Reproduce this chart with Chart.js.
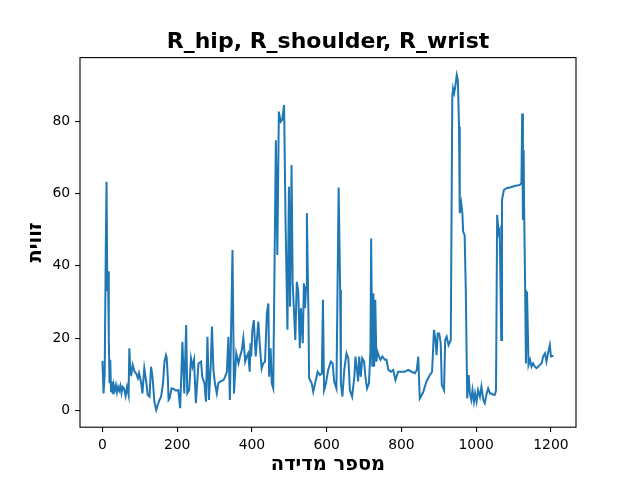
<!DOCTYPE html>
<html>
<head>
<meta charset="utf-8">
<script src="https://cdn.jsdelivr.net/npm/chart.js@4/dist/chart.umd.min.js"></script>
<style>
  html, body { margin: 0; padding: 0; background: #fff; }
  #wrap { width: 640px; height: 480px; }
</style>
</head>
<body>
<div id="wrap"><canvas id="angleChart" width="640" height="480"></canvas></div>
<script>
const measurement = [
  0, 3, 6, 9, 11, 13, 15, 17, 19, 21, 23, 26, 28, 30, 33, 36, 39, 42, 45, 48,
  51, 54, 58, 62, 66, 70, 72, 75, 77, 81, 86, 90, 95, 98, 103, 107, 112, 117, 121, 126,
  130, 134, 139, 144, 148, 153, 157, 162, 166, 170, 172, 175, 177, 180, 185, 190, 196, 203, 208, 214,
  219, 224, 227, 232, 237, 241, 245, 250, 257, 264, 267, 273, 277, 281, 285, 290, 293, 297, 301, 306,
  310, 315, 324, 328, 333, 337, 341, 348, 352, 358, 364, 368, 373, 377, 382, 386, 390, 394, 396, 398,
  401, 405, 410, 417, 422, 426, 430, 435, 440, 444, 446, 450, 453, 457, 464, 468, 472, 477, 481, 486,
  490, 495, 499, 502, 506, 509, 512, 516, 520, 524, 528, 531, 536, 539, 542, 545, 547, 551, 553, 560,
  564, 571, 576, 582, 587, 590, 593, 598, 604, 611, 616, 620, 626, 632, 636, 638, 642, 647, 653, 658,
  662, 668, 674, 677, 681, 684, 687, 691, 695, 700, 704, 708, 713, 717, 719, 722, 725, 727, 730, 733,
  736, 740, 744, 749, 756, 760, 765, 772, 778, 784, 791, 800, 809, 818, 827, 836, 841, 845, 849, 858,
  867, 876, 882, 887, 891, 894, 897, 901, 905, 908, 914, 917, 921, 926, 932, 936, 938, 941, 944, 948,
  951, 954, 956, 960, 963, 965, 969, 972, 976, 980, 983, 987, 990, 994, 997, 1001, 1005, 1010, 1014, 1019,
  1023, 1028, 1032, 1037, 1041, 1045, 1050, 1053, 1056, 1060, 1063, 1067, 1069, 1074, 1081, 1090, 1103, 1117, 1121, 1123,
  1125, 1127, 1128, 1131, 1133, 1136, 1140, 1144, 1148, 1152, 1157, 1161, 1166, 1170, 1175, 1179, 1184, 1188, 1192, 1197,
  1200, 1207
];
const angle = [
  13.7, 4.7, 10, 45, 63.3, 33, 38.5, 20, 7.5, 14, 5, 8, 4.5, 7, 5.5, 7, 5, 6.5, 5.5, 6.8,
  4.8, 6.5, 6, 4, 6.5, 4.3, 17.2, 10, 9.8, 12.6, 10.7, 10.3, 8.9, 10.3, 8, 4.7, 11.7, 8, 4.3, 3.8,
  12.1, 9.3, 2.4, 0.1, 1.5, 3, 3.8, 7.5, 13.5, 15.3, 14.5, 8.9, 2.9, 3.4, 6.1, 6, 5.5, 5.6, 0.6, 19,
  4.7, 23.6, 4.7, 5.6, 14.4, 12.1, 14, 2, 13, 13.5, 9.3, 7.5, 2.4, 20.4, 2.9, 13, 23.2, 11.2, 7.5, 4.7,
  7.5, 8, 8.4, 9.3, 10.7, 20.4, 2.9, 44.4, 4.7, 15.8, 13, 14.9, 16.7, 20, 13.5, 14.9, 15.8, 10.7, 18.6, 14.9,
  22, 25, 14.9, 24.6, 16.7, 11.6, 13, 13.5, 26.9, 29.6, 9.3, 17.2, 7.5, 6.1, 74.8, 43, 82.7, 79.9, 80.4, 84.5,
  51.8, 22.3, 61.9, 28.7, 67.9, 35.2, 28.7, 19.5, 35.6, 32.9, 17.2, 28.3, 18.6, 35.2, 28.3, 34.2, 54.6, 27.8, 8.9, 7.5,
  5.2, 8.4, 10.7, 9.8, 10.2, 30.6, 5.6, 7.5, 11.2, 13.5, 13, 8, 6.1, 61.7, 33.3, 7.5, 3.8, 11.2, 15.8, 14.4,
  5.6, 3.8, 9.3, 14.9, 11.2, 8, 14.9, 9.3, 14.4, 13.5, 8.9, 6.1, 7.5, 16.2, 47.6, 12.1, 32.4, 12.1, 30.6, 13.5,
  16.2, 14.9, 14, 14.9, 14, 14, 11.2, 10.7, 11.2, 8.4, 10.7, 10.7, 10.7, 11.2, 10.7, 10.3, 11.2, 14.9, 3.3, 5,
  8, 9.8, 10.7, 22.3, 19.5, 15.3, 21.3, 21.3, 18.6, 7, 5.6, 19.5, 20.4, 18.1, 19.5, 86.8, 89.1, 87.8, 89.6, 92.8,
  91.4, 78.5, 54.6, 57.3, 54.6, 49.5, 48.5, 34.2, 3.3, 9.8, 4.7, 2.9, 5.6, 2.4, 4.7, 2.4, 5.6, 3.8, 6.6, 2.9,
  2, 4.7, 6.1, 4.7, 4.7, 4.3, 4.3, 5.6, 54.1, 49, 49.9, 19.5, 58.2, 61, 61.5, 61.7, 62.1, 62.4, 62.9, 82.2,
  52.7, 72.1, 58.2, 33.3, 13, 32.9, 12.6, 14, 12.1, 13, 12.1, 11.7, 12.1, 12.6, 13, 14.9, 15.8, 13.5, 15.8, 18.1,
  14.9, 15.1
];
const xTicks = [0, 200, 400, 600, 800, 1000, 1200];
const yTicks = [0, 20, 40, 60, 80];

const chartTitle = 'R_hip, R_shoulder, R_wrist';
const xLabel = 'מספר מדידה';
const yLabel = 'זווית';

const points = measurement.map((m, i) => ({ x: m, y: angle[i] }));

// matplotlib style box around the plot area
const frame = {
  id: 'frame',
  afterDraw(chart) {
    const a = chart.chartArea;
    const ctx = chart.ctx;
    ctx.save();
    ctx.strokeStyle = '#000';
    ctx.lineWidth = 1.1;
    ctx.strokeRect(a.left, a.top, a.right - a.left, a.bottom - a.top);
    ctx.restore();
  }
};

const tickFont = { family: 'DejaVu Sans', size: 13.9 };
const labelFont = { family: 'DejaVu Sans', size: 19.4, weight: 'bold' };
const tickMarks = { display: true, drawOnChartArea: false, drawTicks: true, tickLength: 4.9, color: '#000', lineWidth: 1.1 };

new Chart(document.getElementById('angleChart'), {
  type: 'line',
  data: {
    datasets: [{
      data: points,
      borderColor: '#1f77b4',
      borderWidth: 2,
      pointRadius: 0,
      fill: false,
      tension: 0
    }]
  },
  options: {
    responsive: false,
    animation: false,
    events: [],
    layout: { padding: { left: 16, right: 0, top: 0, bottom: 0 } },
    plugins: {
      legend: { display: false },
      tooltip: { enabled: false },
      title: {
        display: true,
        text: chartTitle,
        color: '#000',
        font: { family: 'DejaVu Sans', size: 22, weight: 'bold' },
        padding: { top: 29, bottom: 2.2 }
      }
    },
    scales: {
      x: {
        type: 'linear',
        min: -60,
        max: 1267,
        afterBuildTicks: s => { s.ticks = xTicks.map(v => ({ value: v })); },
        afterFit: s => { s.height = 52.8; },
        grid: tickMarks,
        border: { display: false },
        ticks: { color: '#000', font: tickFont, padding: 4.9, maxRotation: 0, callback: v => String(v) },
        title: { display: true, text: xLabel, color: '#000', font: labelFont, padding: { top: 0, bottom: 3.5 } }
      },
      y: {
        type: 'linear',
        min: -4.65,
        max: 97.65,
        afterBuildTicks: s => { s.ticks = yTicks.map(v => ({ value: v })); },
        afterFit: s => { s.width = 64; },
        grid: tickMarks,
        border: { display: false },
        ticks: { color: '#000', font: tickFont, padding: 4.9, callback: v => String(v) },
        title: { display: true, text: yLabel, color: '#000', font: labelFont, padding: { top: 8.4, bottom: 0 } }
      },
      // empty right-hand strip, keeps the plot box where matplotlib puts it
      spacer: {
        type: 'linear',
        position: 'right',
        display: true,
        afterFit: s => { s.width = 64; },
        grid: { display: false },
        border: { display: false },
        ticks: { display: false }
      }
    }
  },
  plugins: [frame]
});
</script>
</body>
</html>
